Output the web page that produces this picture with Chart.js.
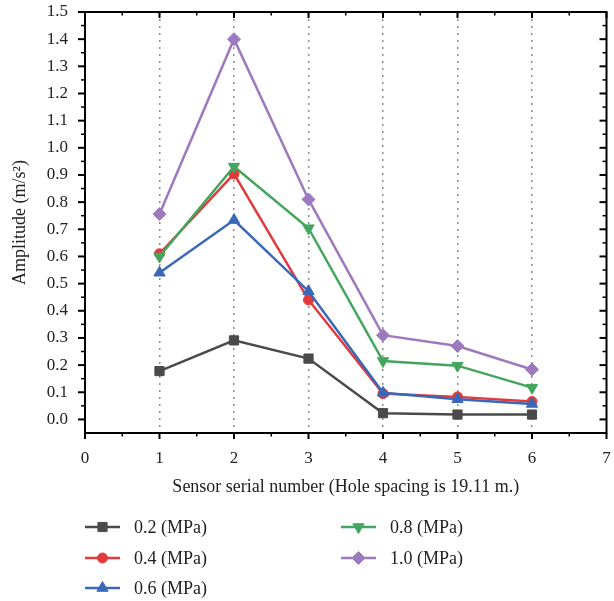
<!DOCTYPE html>
<html>
<head>
<meta charset="utf-8">
<script src="https://cdn.jsdelivr.net/npm/chart.js@4.4.0/dist/chart.umd.min.js"></script>
<style>
  body { margin: 0; background: #fff; }
</style>
</head>
<body>
<canvas id="myChart" width="614" height="601"></canvas>
<script>
// sensor positions along the hole line
const sensors = [1, 2, 3, 4, 5, 6];
const xTicks = [0, 1, 2, 3, 4, 5, 6, 7];
const yTicks = [0.0, 0.1, 0.2, 0.3, 0.4, 0.5, 0.6, 0.7, 0.8, 0.9, 1.0, 1.1, 1.2, 1.3, 1.4, 1.5];

const pressures = ['0.2 (MPa)', '0.4 (MPa)', '0.6 (MPa)', '0.8 (MPa)', '1.0 (MPa)'];

// amplitude (m/s2) at each sensor
const amp02 = [0.178, 0.291, 0.224, 0.023, 0.018, 0.018];
const amp04 = [0.610, 0.904, 0.440, 0.095, 0.083, 0.066];
const amp06 = [0.540, 0.734, 0.472, 0.098, 0.074, 0.057];
const amp08 = [0.600, 0.931, 0.704, 0.215, 0.198, 0.117];
const amp10 = [0.756, 1.400, 0.810, 0.310, 0.270, 0.184];

const serif = "'Liberation Serif', 'Times New Roman', serif";
const textColor = '#222';

const styles = [
  { color: '#4a4a4a', pointStyle: 'rect', rotation: 0, radius: 6.5 },
  { color: '#e23a3c', pointStyle: 'circle', rotation: 0, radius: 5 },
  { color: '#3a68b8', pointStyle: 'triangle', rotation: 0, radius: 6.5 },
  { color: '#43a65c', pointStyle: 'triangle', rotation: 180, radius: 6.5 },
  { color: '#9d7abd', pointStyle: 'rectRot', rotation: 0, radius: 6.5 }
];

const series = [amp02, amp04, amp06, amp08, amp10];

const datasets = series.map((vals, i) => ({
  label: pressures[i],
  data: sensors.map((s, j) => ({ x: s, y: vals[j] })),
  borderColor: styles[i].color,
  backgroundColor: styles[i].color,
  borderWidth: 2.5,
  pointStyle: styles[i].pointStyle,
  rotation: styles[i].rotation,
  pointRadius: styles[i].radius,
  pointBorderWidth: 1,
  tension: 0,
  order: series.length - i
}));

// box around the plot with major/minor ticks on all four sides
const frame = {
  id: 'frame',
  afterDraw(chart) {
    const { ctx, chartArea: a, scales: { x, y } } = chart;
    ctx.save();
    ctx.strokeStyle = '#000';
    ctx.lineWidth = 2;
    ctx.strokeRect(a.left, a.top, a.right - a.left, a.bottom - a.top);

    const tick = (x1, y1, x2, y2, w) => {
      ctx.lineWidth = w;
      ctx.beginPath();
      ctx.moveTo(x1, y1);
      ctx.lineTo(x2, y2);
      ctx.stroke();
    };

    xTicks.forEach((v, i) => {
      const px = x.getPixelForValue(v);
      tick(px, a.bottom, px, a.bottom + 6, 2);
      tick(px, a.top, px, a.top + 6, 2);
      if (i < xTicks.length - 1) {
        const m = x.getPixelForValue((v + xTicks[i + 1]) / 2);
        tick(m, a.bottom, m, a.bottom + 3.5, 1.5);
        tick(m, a.top, m, a.top + 3.5, 1.5);
      }
    });

    yTicks.forEach((v, i) => {
      const py = y.getPixelForValue(v);
      tick(a.left, py, a.left - 7, py, 2);
      tick(a.right, py, a.right - 7, py, 2);
      if (i < yTicks.length - 1) {
        const m = y.getPixelForValue((v + yTicks[i + 1]) / 2);
        tick(a.left, m, a.left - 4, m, 1.5);
        tick(a.right, m, a.right - 4, m, 1.5);
      }
    });
    ctx.restore();
  }
};

// two-column legend under the x axis title
const pressureLegend = {
  id: 'pressureLegend',
  afterDraw(chart) {
    const ctx = chart.ctx;
    const cols = [85, 341];
    const rows = [527, 558, 588];
    ctx.save();
    chart.data.datasets.forEach((ds, i) => {
      const x0 = cols[Math.floor(i / 3)];
      const yc = rows[i % 3];
      ctx.strokeStyle = ds.borderColor;
      ctx.fillStyle = ds.backgroundColor;
      ctx.lineWidth = 2.5;
      ctx.beginPath();
      ctx.moveTo(x0, yc);
      ctx.lineTo(x0 + 35, yc);
      ctx.stroke();
      ctx.lineWidth = 1;
      Chart.helpers.drawPoint(ctx, {
        pointStyle: ds.pointStyle,
        rotation: ds.rotation,
        radius: ds.pointRadius,
        borderWidth: 1
      }, x0 + 17.5, yc);
      ctx.fillStyle = textColor;
      ctx.font = '18px ' + serif;
      ctx.textBaseline = 'middle';
      ctx.fillText(ds.label, x0 + 49, yc + 1);
    });
    ctx.restore();
  }
};

const ctx = document.getElementById('myChart').getContext('2d');
const myChart = new Chart(ctx, {
  type: 'line',
  data: { datasets },
  plugins: [frame, pressureLegend],
  options: {
    responsive: false,
    animation: false,
    layout: { padding: { left: 0, top: 12, right: 7, bottom: 98 } },
    plugins: {
      legend: { display: false },
      tooltip: { enabled: false }
    },
    scales: {
      x: {
        type: 'linear',
        min: 0,
        max: 7,
        afterBuildTicks: s => { s.ticks = xTicks.map(v => ({ value: v })); },
        afterFit: s => {
          s.height = 70;
          s.paddingLeft = 0;
          s.paddingRight = 0;
        },
        grid: {
          drawTicks: false,
          lineWidth: 1.5,
          color: c => (c.tick && c.tick.value >= 1 && c.tick.value <= 6) ? '#8c8c8c' : 'rgba(0,0,0,0)'
        },
        border: { display: false, dash: [2, 5] },
        ticks: {
          color: textColor,
          font: { family: serif, size: 17 },
          padding: 15,
          callback: v => v
        },
        title: {
          display: true,
          text: 'Sensor serial number (Hole spacing is 19.11 m.)',
          color: textColor,
          font: { family: serif, size: 18 },
          padding: { top: 0, bottom: 5 }
        }
      },
      y: {
        type: 'linear',
        min: -0.05,
        max: 1.5,
        afterBuildTicks: s => { s.ticks = yTicks.map(v => ({ value: v })); },
        afterFit: s => {
          s.width = 85;
          s.paddingTop = 0;
          s.paddingBottom = 0;
        },
        grid: { display: false, drawTicks: false },
        border: { display: false },
        ticks: {
          color: textColor,
          font: { family: serif, size: 17 },
          padding: 17,
          callback: v => v.toFixed(1)
        },
        title: {
          display: true,
          text: 'Amplitude (m/s²)',
          color: textColor,
          font: { family: serif, size: 18 },
          padding: { top: 9, bottom: 0 }
        }
      }
    }
  }
});
</script>
</body>
</html>
